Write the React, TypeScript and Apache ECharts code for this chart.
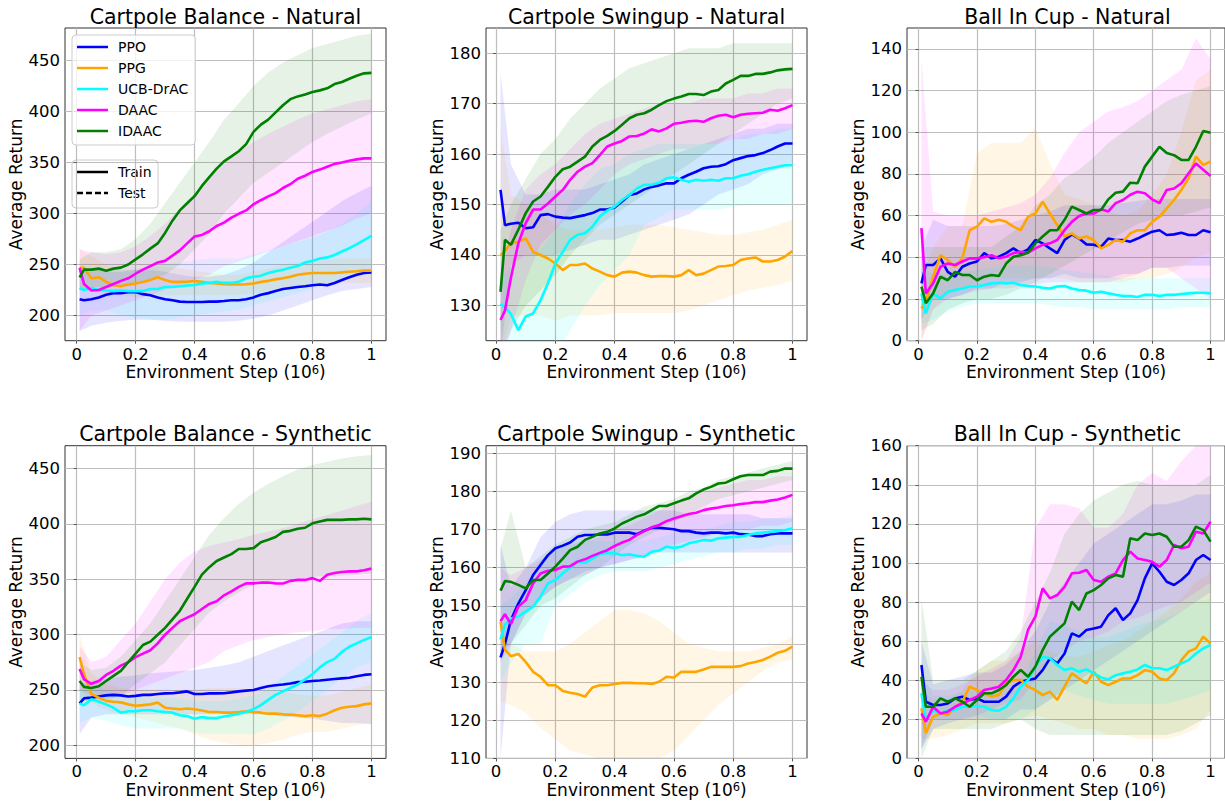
import React, { useEffect, useRef } from "react";
import * as echarts from "echarts";

// ---------- shared ----------
const ALGOS = ["PPO", "PPG", "UCB-DrAC", "DAAC", "IDAAC"];
const COLORS = ["#0000ff", "#ffa500", "#00ffff", "#ff00ff", "#008000"];
const BAND_FILLS = ["rgba(0,0,255,0.1)", "rgba(255,165,0,0.1)", "rgba(0,255,255,0.1)", "rgba(255,0,255,0.1)", "rgba(0,128,0,0.1)"];
const X_TICKS = [0, 0.2, 0.4, 0.6, 0.8, 1];

const STEPS_A = [0.01, 0.025, 0.05, 0.075, 0.1, 0.125, 0.15, 0.175, 0.2, 0.225, 0.25, 0.275, 0.3, 0.325, 0.35, 0.375, 0.4, 0.425, 0.45, 0.475, 0.5, 0.525, 0.55, 0.575, 0.6, 0.625, 0.65, 0.675, 0.7, 0.725, 0.75, 0.775, 0.8, 0.825, 0.85, 0.875, 0.9, 0.925, 0.95, 0.975, 1];
const STEPS_B = [0.015, 0.03, 0.05, 0.075, 0.1, 0.125, 0.15, 0.175, 0.2, 0.225, 0.25, 0.275, 0.3, 0.325, 0.35, 0.375, 0.4, 0.425, 0.45, 0.475, 0.5, 0.525, 0.55, 0.575, 0.6, 0.625, 0.65, 0.675, 0.7, 0.725, 0.75, 0.775, 0.8, 0.825, 0.85, 0.875, 0.9, 0.925, 0.95, 0.975, 1];
const BAND_STEPS_A = [0.01, 0.05, 0.1, 0.15, 0.2, 0.25, 0.3, 0.35, 0.4, 0.45, 0.5, 0.55, 0.6, 0.65, 0.7, 0.75, 0.8, 0.85, 0.9, 0.95, 1];
const BAND_STEPS_B = [0.015, 0.05, 0.1, 0.15, 0.2, 0.25, 0.3, 0.35, 0.4, 0.45, 0.5, 0.55, 0.6, 0.65, 0.7, 0.75, 0.8, 0.85, 0.9, 0.95, 1];

// ---------- Cartpole Balance - Natural ----------
const CBN_TICKS = [200, 250, 300, 350, 400, 450];
const CBN_PPO = [216, 215, 216, 217.8, 220.5, 222, 222, 223, 223, 221, 220, 217.8, 216, 215, 213.7, 213.3, 213.3, 213.3, 213.7, 213.7, 214.3, 215, 215, 216, 217.8, 220.5, 222, 224, 226, 227, 228, 228.7, 229.7, 230.4, 229.7, 232, 234.8, 237.6, 240, 241.7, 242.3];
const CBN_PPG = [246.8, 246.8, 236.5, 237.6, 233, 229.7, 228.7, 230.4, 231.4, 233, 234.8, 237.6, 234.8, 233, 233, 233, 233.8, 233, 232, 231.4, 230.7, 230.4, 230.4, 230.7, 231.4, 233, 234, 235.5, 236.5, 238, 240, 241, 241.7, 241.7, 241.7, 241.7, 242.3, 243, 243.4, 244, 244];
const CBN_UCB = [227, 225, 227, 225, 224.6, 224, 224.6, 224, 224, 224, 226, 226, 228, 228, 228.7, 229.4, 230, 231.4, 232, 233, 232, 232, 233, 236.5, 238, 239, 241.7, 243.4, 245, 246.8, 248.5, 252, 253.6, 256, 257, 259.4, 262.8, 266, 269.7, 274, 278];
const CBN_DAAC = [246.8, 231, 224.6, 225, 228, 231, 234, 236.5, 241, 245, 248.5, 252, 253.6, 258.7, 263.9, 270.7, 277.5, 279, 282.6, 287.8, 291, 296, 299.7, 303, 309, 313, 316.8, 320, 325, 328.7, 334, 337, 340.7, 343, 345.8, 348.6, 350, 351.6, 353, 354, 354];
const CBN_IDAAC = [237.5, 245, 245, 246, 244, 246, 247, 250, 255, 260, 265.6, 270.7, 281, 293, 303, 310, 317, 327, 335.6, 344, 351, 356, 361, 368, 380, 387, 392, 399, 406, 412, 414.7, 416.5, 419, 420.6, 422.6, 426.8, 428.8, 432, 435, 437.3, 437.7];
const CBN_PPO_LO = [185, 190, 193, 195, 196, 196, 195, 194, 194, 194, 194, 195, 197, 200, 205, 210, 215, 220, 224, 226, 228];
const CBN_PPO_HI = [245, 245, 243, 243, 245, 245, 243, 240, 238, 238, 240, 245, 252, 262, 272, 282, 292, 302, 312, 320, 327];
const CBN_PPG_LO = [225, 225, 222, 220, 218, 220, 220, 220, 220, 220, 220, 220, 222, 224, 226, 228, 230, 231, 232, 232, 232];
const CBN_PPG_HI = [265, 258, 250, 245, 245, 248, 248, 246, 244, 242, 240, 240, 243, 246, 250, 252, 254, 255, 256, 256, 256];
const CBN_UCB_LO = [200, 205, 205, 200, 198, 196, 196, 198, 200, 202, 204, 206, 210, 214, 218, 222, 226, 230, 234, 238, 242];
const CBN_UCB_HI = [240, 245, 245, 245, 245, 248, 250, 252, 254, 256, 256, 256, 260, 264, 268, 272, 276, 282, 290, 300, 312];
const CBN_DAAC_LO = [185, 200, 205, 210, 215, 220, 225, 230, 235, 240, 248, 253, 258, 263, 268, 273, 278, 283, 288, 295, 300];
const CBN_DAAC_HI = [265, 262, 260, 262, 268, 278, 290, 305, 320, 335, 350, 360, 370, 378, 385, 392, 398, 402, 406, 410, 412];
const CBN_IDAAC_LO = [225, 228, 228, 228, 230, 235, 240, 250, 265, 280, 300, 315, 330, 340, 350, 360, 370, 378, 385, 392, 398];
const CBN_IDAAC_HI = [255, 262, 262, 265, 275, 290, 310, 330, 350, 370, 392, 408, 425, 438, 448, 455, 462, 466, 470, 474, 476];

// ---------- Cartpole Swingup - Natural ----------
const CSN_TICKS = [130, 140, 150, 160, 170, 180];
const CSN_PPO = [152.9, 145.9, 146.2, 146.4, 145.3, 145.5, 147.9, 148.1, 147.6, 147.4, 147.3, 147.6, 147.9, 148.3, 149, 149, 149.4, 150.6, 151.9, 152.2, 153, 153.5, 153.8, 154.2, 154.2, 155.2, 155.9, 156.5, 157.2, 157.5, 157.6, 158, 158.8, 159.2, 159.6, 159.8, 160.2, 160.8, 161.5, 162.1, 162.1];
const CSN_PPG = [140, 140.8, 142.3, 142.6, 143.3, 140.6, 140, 139.3, 138.3, 137, 138, 138, 138.3, 137.3, 136.7, 136, 135.7, 136.5, 136.7, 136.5, 136, 135.7, 135.8, 135.8, 135.7, 136, 137, 136, 136.3, 137, 137.7, 137.8, 138, 139, 139.3, 139.5, 138.7, 138.7, 139, 139.7, 140.8];
const CSN_UCB = [130.3, 129.7, 128.3, 125.1, 127.8, 128.4, 131, 134.4, 138.3, 140.6, 143, 144, 144.3, 145.6, 147.6, 148.8, 149.6, 150.9, 151.9, 153.2, 153.9, 153.9, 154.3, 155.2, 155.4, 154.9, 154.5, 154.9, 154.7, 154.9, 154.7, 155.2, 155.2, 155.7, 156, 156.5, 156.9, 157.2, 157.5, 157.8, 157.8];
const CSN_DAAC = [127.1, 129, 135.5, 142.3, 146.3, 149, 149, 150.2, 151.6, 152.9, 154.9, 156.5, 157.5, 158.2, 159.8, 161.5, 162.1, 162.6, 163.5, 163.6, 164.1, 164.9, 164.5, 165.1, 166, 166.2, 166.5, 166.6, 166.4, 167.1, 167.6, 167.8, 167.3, 167.8, 168, 168.1, 168.2, 168.8, 168.6, 169.1, 169.7];
const CSN_IDAAC = [132.7, 143, 142, 145, 148.3, 150.6, 151.6, 153.5, 155.5, 157, 157.5, 158.5, 159.5, 161.5, 162.8, 163.6, 164.6, 165.8, 167.1, 167.8, 168.1, 168.8, 169.7, 170.5, 171, 171.4, 171.9, 171.9, 171.7, 172.4, 172.7, 174, 174.7, 175.5, 175.5, 175.9, 175.9, 176.2, 176.6, 176.8, 176.9];
const CSN_PPO_LO = [120, 138, 140, 140, 140, 141, 142, 143, 143, 144, 145, 146, 147, 148, 150, 152, 153, 154, 156, 157, 158];
const CSN_PPO_HI = [176, 158, 152, 152, 153, 153, 153, 154, 155, 156, 158, 159, 160, 161, 162, 163, 164, 165, 165, 166, 166];
const CSN_PPG_LO = [120, 128, 128, 128, 127, 128, 128, 128, 128.5, 128.5, 128.5, 128.5, 128.5, 129, 130, 131, 132, 133, 133.5, 134, 135];
const CSN_PPG_HI = [165, 152, 150, 148, 146, 145, 145, 145, 145.5, 146, 146, 146, 145.5, 145, 144.5, 144, 144, 144.5, 145, 146, 147];
const CSN_UCB_LO = [125, 115, 112, 115, 120, 125, 130, 134, 137, 140, 146, 147.5, 149, 149, 149, 149, 149.5, 150, 150, 150, 150];
const CSN_UCB_HI = [135, 138, 140, 141, 145, 150, 154, 157, 158, 160, 161, 162, 162, 162, 162, 162, 163, 164, 164, 165, 165];
const CSN_DAAC_LO = [118, 125, 135, 142, 145, 148, 150, 153, 156, 158, 159, 160, 161, 161, 162, 162, 163, 163, 164, 164, 165];
const CSN_DAAC_HI = [135, 145, 153, 156, 158, 161, 164, 166, 167, 168, 169, 170, 170, 170, 171, 171, 171, 172, 172, 173, 173];
const CSN_IDAAC_LO = [120, 125, 130, 133, 136, 140, 143, 146, 148, 150, 152, 154, 156, 158, 160, 162, 164, 166, 168, 170, 171];
const CSN_IDAAC_HI = [145, 150, 155, 160, 163, 167, 170, 173, 175, 177, 178, 179, 180, 181, 181, 181, 182, 182, 182, 182, 182];

// ---------- Ball In Cup - Natural ----------
const BCN_TICKS = [0, 20, 40, 60, 80, 100, 120, 140];
const BCN_PPO = [27.5, 36.3, 36.3, 39.5, 33, 30.7, 35.5, 37, 38, 42, 39.5, 40.3, 42, 44.3, 42, 43.8, 48.3, 46.7, 44.3, 42, 48.3, 51, 49, 46.2, 46, 45, 49, 48.3, 48.3, 47.5, 49, 50.7, 52.3, 53, 50.7, 51, 51.8, 50.7, 50.7, 53, 52];
const BCN_PPG = [15.5, 18.7, 30.7, 41, 38.7, 35.5, 39.5, 53, 54.7, 58.7, 57, 58, 57, 54.7, 53, 59.5, 61, 66.7, 61, 55.5, 50, 51.5, 49, 50, 48.3, 44.3, 46, 48.3, 47.5, 51.5, 53, 53, 57, 59.5, 63.5, 67.5, 72.3, 78, 88.3, 84.3, 86];
const BCN_UCB = [22.7, 13, 22.7, 20.3, 23.5, 24.3, 25, 26, 26, 26.7, 27.5, 27.8, 27.5, 27.8, 26.7, 26.2, 26, 25.4, 25, 26, 26.2, 25, 24.3, 24, 23, 23.5, 22.7, 22, 21.4, 21.4, 21, 22, 22, 21.4, 22, 22, 22.4, 22.7, 23, 23, 22.7];
const BCN_DAAC = [54, 22.7, 27.5, 35.5, 37, 36.3, 38, 39.5, 39.5, 40, 41, 39.5, 40.3, 42, 42.7, 42.2, 44.3, 46, 46.7, 48.3, 53, 57, 59.8, 61, 61, 63, 62, 66, 67.5, 70, 71.5, 70.7, 67.8, 66, 72.3, 73, 75.5, 80.3, 85, 82, 79];
const BCN_IDAAC = [25.9, 18, 22.7, 30.7, 29, 33, 31.5, 31.5, 29, 30.7, 31.5, 31, 37, 40.3, 41, 42.2, 46.7, 50, 53, 53, 58, 64.3, 62.7, 61, 62.7, 62.7, 67.8, 71, 71.5, 75.8, 75.5, 83.5, 88.3, 93, 90, 89, 86.7, 86.7, 93, 100.6, 99.8];
const BCN_PPO_LO = [10, 20, 20, 22, 25, 25, 28, 28, 30, 30, 32, 30, 30, 30, 32, 32, 35, 35, 36, 36, 36];
const BCN_PPO_HI = [45, 58, 55, 55, 55, 55, 56, 58, 60, 62, 65, 65, 65, 65, 66, 67, 68, 68, 68, 68, 68];
const BCN_PPG_LO = [0, 15, 22, 25, 28, 30, 30, 30, 30, 30, 30, 28, 28, 28, 28, 30, 30, 32, 35, 40, 42];
const BCN_PPG_HI = [30, 45, 55, 55, 90, 95, 95, 95, 102, 85, 70, 68, 65, 62, 60, 62, 70, 80, 100, 125, 130];
const BCN_UCB_LO = [8, 10, 14, 16, 18, 18, 18, 18, 18, 17, 16, 16, 15, 15, 15, 15, 15, 15, 16, 16, 16];
const BCN_UCB_HI = [35, 32, 32, 33, 34, 35, 36, 36, 36, 35, 34, 33, 32, 31, 30, 30, 30, 30, 30, 30, 30];
const BCN_DAAC_LO = [0, 15, 20, 22, 24, 25, 25, 26, 27, 28, 28, 28, 28, 28, 30, 32, 35, 35, 30, 25, 20];
const BCN_DAAC_HI = [135, 62, 60, 60, 60, 62, 64, 66, 70, 78, 90, 100, 105, 110, 112, 115, 120, 125, 130, 145, 135];
const BCN_IDAAC_LO = [5, 8, 15, 18, 20, 20, 22, 25, 28, 32, 36, 40, 44, 48, 52, 56, 58, 60, 60, 62, 64];
const BCN_IDAAC_HI = [45, 45, 45, 45, 45, 45, 50, 55, 65, 70, 78, 82, 88, 95, 100, 105, 110, 115, 118, 120, 122];

// ---------- Cartpole Balance - Synthetic ----------
const CBS_TICKS = [200, 250, 300, 350, 400, 450];
const CBS_PPO = [237.8, 242.4, 243, 244, 245, 245.5, 245, 244, 244.6, 245.5, 245.5, 246.2, 246.8, 247, 247.7, 248.6, 246.2, 246.2, 246.8, 246.8, 247, 247.7, 248.6, 249.3, 249.9, 251.7, 253.3, 254.2, 254.8, 255.8, 257, 257.3, 258, 258.5, 259.2, 259.8, 260.4, 261, 262.3, 263.5, 264.1];
const CBS_PPG = [279.6, 264.1, 246.2, 243, 240, 239.3, 238.7, 236.9, 235.6, 236.2, 236.9, 238.5, 233.8, 233.1, 232.5, 233.1, 232.5, 231.3, 230, 230, 229.4, 229.4, 230, 230.7, 230, 229.4, 228.5, 228.5, 227.9, 227.6, 227, 226.3, 227, 226.3, 228.5, 231.6, 233.8, 234.7, 235.3, 236.9, 237.8];
const CBS_UCB = [237.8, 236, 241.5, 239.3, 236.9, 233.8, 229.4, 230.7, 230.7, 231.6, 231.6, 230.7, 230, 229.4, 227, 226.3, 223.9, 225.4, 224.5, 224.5, 226, 227, 228.5, 230, 232.5, 236.2, 240.9, 245.5, 248.6, 251.7, 254.8, 259.5, 264.1, 270.3, 275, 278, 284.3, 288.9, 292, 295.1, 297.6];
const CBS_DAAC = [268.8, 259.5, 255.5, 258, 263.5, 267.2, 271.9, 275, 279.6, 282.7, 285.8, 292, 299.8, 306, 312, 315.2, 318.3, 323, 327.6, 330, 335.4, 339, 343, 346.2, 346.2, 346.8, 347, 346.2, 346, 348.4, 349.3, 349.3, 350.9, 348.4, 354, 355.5, 356.4, 357, 357, 358, 359.5];
const CBS_IDAAC = [258, 252.7, 251.7, 253.3, 258, 262.6, 267.2, 275, 282.7, 290.5, 293.6, 299.8, 306, 313.7, 321.4, 332.3, 343, 354, 360.8, 366.4, 369.5, 372.6, 377.2, 377.2, 378, 383.4, 385.6, 388, 392.7, 393.6, 395.5, 396.4, 400.4, 402, 403.5, 403.5, 403.5, 404, 404, 404.5, 404];
const CBS_PPO_LO = [210, 225, 228, 228, 228, 228, 228, 228, 228, 228, 228, 228, 228, 228, 226, 225, 224, 222, 220, 220, 219];
const CBS_PPO_HI = [255, 258, 260, 262, 263, 265, 266, 267, 268, 270, 272, 275, 280, 285, 290, 295, 300, 305, 310, 312, 312];
const CBS_PPG_LO = [250, 238, 232, 228, 225, 222, 218, 215, 210, 205, 202, 200, 200, 202, 205, 210, 212, 212, 215, 218, 220];
const CBS_PPG_HI = [300, 265, 255, 252, 250, 250, 250, 250, 250, 252, 252, 252, 250, 250, 248, 246, 245, 245, 248, 252, 255];
const CBS_UCB_LO = [220, 225, 222, 218, 215, 215, 215, 215, 212, 210, 210, 210, 210, 215, 222, 230, 240, 250, 260, 270, 275];
const CBS_UCB_HI = [250, 255, 250, 245, 243, 243, 243, 242, 240, 240, 240, 242, 245, 252, 262, 272, 282, 292, 302, 312, 320];
const CBS_DAAC_LO = [250, 245, 245, 245, 250, 255, 260, 265, 270, 275, 285, 290, 295, 298, 300, 302, 303, 305, 305, 306, 306];
const CBS_DAAC_HI = [290, 275, 280, 295, 310, 330, 350, 365, 375, 380, 383, 386, 390, 393, 396, 400, 404, 408, 412, 416, 420];
const CBS_IDAAC_LO = [240, 240, 240, 245, 255, 265, 275, 290, 305, 320, 330, 338, 345, 348, 350, 350, 352, 353, 353, 354, 355];
const CBS_IDAAC_HI = [275, 268, 270, 280, 295, 310, 330, 350, 370, 390, 405, 418, 428, 436, 443, 449, 453, 456, 459, 461, 462];

// ---------- Cartpole Swingup - Synthetic ----------
const CSS_TICKS = [110, 120, 130, 140, 150, 160, 170, 180, 190];
const CSS_PPO = [136.5, 140, 146.3, 150.6, 154.1, 158.1, 160.7, 163.3, 165.1, 165.8, 166.6, 168.1, 168.6, 168.6, 168.7, 168.7, 169.2, 169.2, 169.2, 168.8, 169.7, 170.5, 170.5, 170.3, 170.1, 169.6, 169.6, 169.2, 169, 169.2, 169.2, 169, 169.2, 168.8, 168.7, 168.3, 168.3, 168.8, 169, 169, 169];
const CSS_PPG = [145.8, 138.5, 136.8, 137.4, 135.3, 132.7, 131.4, 129.2, 129.2, 127.7, 127.2, 126.9, 126.2, 128.6, 129.2, 129.2, 129.5, 129.8, 129.8, 129.7, 129.7, 129.5, 130.1, 131.4, 131.2, 132.7, 132.7, 132.7, 133.3, 134, 134, 134, 134, 134.2, 134.9, 135.3, 135.8, 136.7, 137.7, 138.2, 139.3];
const CSS_UCB = [141.2, 145, 146.7, 147.2, 148.5, 149.8, 152.4, 155.9, 156.8, 158.5, 160.1, 161.6, 161.3, 162.4, 163.6, 163.9, 163.8, 163.3, 163.5, 163.1, 162.9, 164.2, 164.5, 165.5, 165.2, 165.5, 166.4, 166.8, 167.3, 167.1, 167.7, 167.9, 168.1, 168.1, 168.6, 169, 169.2, 169.4, 169.6, 169.9, 170.3];
const CSS_DAAC = [146, 147.8, 145.2, 149.8, 151.5, 155.9, 158.5, 159.2, 159.4, 160.3, 160.4, 161.6, 162.2, 163.1, 163.9, 164.6, 165.7, 166.6, 167.3, 168.6, 169.6, 170.6, 171.2, 172.2, 172.9, 173.5, 174.1, 174.4, 175.1, 175.5, 175.8, 176.2, 176.4, 176.7, 176.9, 177.2, 177.2, 177.6, 177.9, 178.4, 179.1];
const CSS_IDAAC = [154, 156.5, 156.3, 155.5, 154.6, 156.8, 156.8, 158.5, 160.3, 162.4, 164.6, 165.5, 167.3, 168.1, 169, 169.4, 170.3, 171.6, 172.5, 173.4, 174, 175.1, 176.2, 176.2, 176.9, 177.6, 178.2, 179.5, 180.5, 181.2, 182.1, 182.3, 183.2, 184, 184.3, 184.3, 184.3, 185.2, 185.4, 186, 186];
const CSS_PPO_LO = [110, 140, 148, 152, 155, 157, 159, 160, 161, 162, 163, 164, 164, 164, 164, 164, 164, 164, 164, 164, 164];
const CSS_PPO_HI = [166, 155, 160, 168, 172, 174, 175, 175, 175, 175, 175, 175, 175, 174, 174, 174, 174, 174, 173, 173, 173];
const CSS_PPG_LO = [125, 124, 122, 118, 115, 112, 111, 110, 110, 110, 110, 110, 112, 116, 120, 124, 127, 130, 133, 135, 136];
const CSS_PPG_HI = [147, 140, 138, 138, 138, 140, 143, 146, 149, 149, 148, 146, 143, 140, 139, 138, 138, 138, 139, 140, 142];
const CSS_UCB_LO = [130, 135, 140, 140, 150, 153, 156, 158, 159, 159, 159, 160, 161, 162, 163, 164, 164, 165, 165, 166, 166];
const CSS_UCB_HI = [150, 152, 156, 162, 165, 167, 167, 167, 167, 167, 167, 168, 169, 170, 170, 171, 172, 172, 173, 173, 174];
const CSS_DAAC_LO = [135, 140, 148, 152, 155, 157, 158, 160, 161, 162, 163, 165, 166, 167, 168, 169, 170, 170, 171, 171, 172];
const CSS_DAAC_HI = [160, 158, 160, 162, 165, 166, 167, 168, 170, 171, 173, 175, 177, 179, 180, 181, 182, 183, 183, 184, 184];
const CSS_IDAAC_LO = [138, 140, 145, 150, 152, 155, 158, 160, 163, 166, 168, 170, 172, 174, 176, 178, 179, 180, 181, 182, 183];
const CSS_IDAAC_HI = [165, 175, 160, 163, 166, 168, 170, 171, 172, 174, 176, 177, 178, 180, 181, 183, 184, 185, 186, 187, 188];

// ---------- Ball In Cup - Synthetic ----------
const BCS_TICKS = [0, 20, 40, 60, 80, 100, 120, 140, 160];
const BCS_PPO = [47.8, 29, 27.3, 27.3, 28.1, 30.7, 31.6, 29.9, 30.7, 29, 29, 29, 31.6, 36.7, 39.2, 40.1, 40.9, 45.2, 51.2, 48.6, 53.7, 64, 62.3, 65.7, 66.5, 67.4, 73.3, 76.8, 70.8, 74.2, 81, 92.1, 99.8, 95.5, 90.4, 88.7, 91.3, 94.7, 101.5, 104.1, 101.5];
const BCS_PPG = [25.6, 13, 21.3, 23, 22.2, 26.4, 29, 36.7, 35, 33.3, 31.6, 32.4, 38.4, 40.1, 40.1, 36.7, 35, 32.4, 34.1, 29.9, 36.7, 43.5, 40.9, 38.4, 44.3, 39.2, 37.5, 39.2, 40.9, 40.9, 42.6, 45.2, 44.3, 40.9, 40.1, 43.5, 50.3, 54.6, 56.3, 62.3, 58.8];
const BCS_UCB = [33.3, 19.6, 24.7, 23, 24.7, 24.7, 26.4, 26.4, 26.8, 26.4, 24.7, 24.4, 26.4, 30.7, 36.7, 40.1, 46.9, 52, 51.2, 47.8, 45.2, 46.1, 44.3, 45.5, 43.5, 41.4, 40.4, 42.6, 43.5, 44.3, 45.5, 47.8, 46.1, 46.1, 45.2, 46.9, 48.6, 50.3, 53.7, 56.3, 58];
const BCS_DAAC = [23, 18.8, 26.4, 23, 23.9, 26.4, 28.1, 29.9, 31.6, 35, 35.8, 36.7, 40.1, 45.2, 52, 65.7, 72.5, 87, 81.9, 83.6, 87.8, 94.7, 95, 96.4, 91.3, 90.4, 93, 94.7, 101.5, 105.8, 102.3, 101.5, 100.6, 98.1, 101.5, 109.2, 107.5, 108.3, 116, 115.1, 121.1];
const BCS_IDAAC = [41.8, 26.4, 26.4, 30.7, 29, 30.7, 29, 26.4, 29.9, 33.3, 33.3, 35, 37.5, 41.8, 45.2, 41.8, 46.9, 55.4, 62.3, 65.7, 69.1, 80.2, 75.9, 84.4, 86.1, 88.7, 92.1, 93.8, 93, 112.6, 111.7, 115.1, 114.3, 115.1, 113.4, 108.3, 108.3, 111.7, 118.6, 116.8, 110.9];
const BCS_PPO_LO = [5, 20, 20, 20, 20, 20, 20, 25, 25, 30, 35, 40, 45, 50, 55, 60, 65, 70, 75, 80, 85];
const BCS_PPO_HI = [60, 38, 40, 42, 44, 44, 48, 55, 65, 80, 90, 100, 110, 115, 120, 125, 130, 130, 132, 135, 135];
const BCS_PPG_LO = [10, 10, 12, 15, 18, 18, 18, 20, 22, 20, 18, 15, 15, 12, 12, 10, 10, 10, 12, 15, 25];
const BCS_PPG_HI = [35, 30, 30, 35, 45, 50, 50, 55, 60, 55, 52, 52, 55, 58, 60, 65, 70, 75, 82, 90, 95];
const BCS_UCB_LO = [5, 15, 18, 20, 22, 20, 20, 20, 25, 30, 35, 32, 30, 28, 28, 28, 28, 28, 30, 32, 35];
const BCS_UCB_HI = [45, 32, 32, 34, 35, 33, 35, 40, 55, 70, 68, 65, 62, 62, 65, 68, 70, 72, 75, 80, 82];
const BCS_DAAC_LO = [5, 15, 18, 20, 22, 25, 28, 30, 40, 50, 55, 60, 62, 65, 70, 72, 75, 78, 80, 85, 90];
const BCS_DAAC_HI = [40, 35, 35, 38, 42, 46, 50, 62, 118, 130, 130, 128, 118, 118, 125, 140, 146, 142, 152, 160, 162];
const BCS_IDAAC_LO = [0, 15, 15, 15, 15, 15, 18, 20, 15, 12, 12, 12, 12, 12, 12, 12, 12, 12, 14, 18, 22];
const BCS_IDAAC_HI = [82, 40, 40, 40, 45, 50, 55, 65, 80, 95, 115, 125, 132, 136, 140, 142, 140, 140, 140, 140, 145];

const PANELS = [
  { title: "Cartpole Balance - Natural", steps: STEPS_A, bandSteps: BAND_STEPS_A, xMin: -0.0395, xMax: 1.0495, yMin: 175.4, yMax: 481.7, yTicks: CBN_TICKS,
    means: [CBN_PPO, CBN_PPG, CBN_UCB, CBN_DAAC, CBN_IDAAC],
    lows: [CBN_PPO_LO, CBN_PPG_LO, CBN_UCB_LO, CBN_DAAC_LO, CBN_IDAAC_LO],
    highs: [CBN_PPO_HI, CBN_PPG_HI, CBN_UCB_HI, CBN_DAAC_HI, CBN_IDAAC_HI] },
  { title: "Cartpole Swingup - Natural", steps: STEPS_B, bandSteps: BAND_STEPS_B, xMin: -0.034, xMax: 1.049, yMin: 123, yMax: 185, yTicks: CSN_TICKS,
    means: [CSN_PPO, CSN_PPG, CSN_UCB, CSN_DAAC, CSN_IDAAC],
    lows: [CSN_PPO_LO, CSN_PPG_LO, CSN_UCB_LO, CSN_DAAC_LO, CSN_IDAAC_LO],
    highs: [CSN_PPO_HI, CSN_PPG_HI, CSN_UCB_HI, CSN_DAAC_HI, CSN_IDAAC_HI] },
  { title: "Ball In Cup - Natural", steps: STEPS_A, bandSteps: BAND_STEPS_A, xMin: -0.0395, xMax: 1.0495, yMin: 0, yMax: 150, yTicks: BCN_TICKS,
    means: [BCN_PPO, BCN_PPG, BCN_UCB, BCN_DAAC, BCN_IDAAC],
    lows: [BCN_PPO_LO, BCN_PPG_LO, BCN_UCB_LO, BCN_DAAC_LO, BCN_IDAAC_LO],
    highs: [BCN_PPO_HI, BCN_PPG_HI, BCN_UCB_HI, BCN_DAAC_HI, BCN_IDAAC_HI] },
  { title: "Cartpole Balance - Synthetic", steps: STEPS_A, bandSteps: BAND_STEPS_A, xMin: -0.0395, xMax: 1.0495, yMin: 188.1, yMax: 470.5, yTicks: CBS_TICKS,
    means: [CBS_PPO, CBS_PPG, CBS_UCB, CBS_DAAC, CBS_IDAAC],
    lows: [CBS_PPO_LO, CBS_PPG_LO, CBS_UCB_LO, CBS_DAAC_LO, CBS_IDAAC_LO],
    highs: [CBS_PPO_HI, CBS_PPG_HI, CBS_UCB_HI, CBS_DAAC_HI, CBS_IDAAC_HI] },
  { title: "Cartpole Swingup - Synthetic", steps: STEPS_B, bandSteps: BAND_STEPS_B, xMin: -0.034, xMax: 1.049, yMin: 110, yMax: 192, yTicks: CSS_TICKS,
    means: [CSS_PPO, CSS_PPG, CSS_UCB, CSS_DAAC, CSS_IDAAC],
    lows: [CSS_PPO_LO, CSS_PPG_LO, CSS_UCB_LO, CSS_DAAC_LO, CSS_IDAAC_LO],
    highs: [CSS_PPO_HI, CSS_PPG_HI, CSS_UCB_HI, CSS_DAAC_HI, CSS_IDAAC_HI] },
  { title: "Ball In Cup - Synthetic", steps: STEPS_A, bandSteps: BAND_STEPS_A, xMin: -0.0395, xMax: 1.0495, yMin: 0, yMax: 160, yTicks: BCS_TICKS,
    means: [BCS_PPO, BCS_PPG, BCS_UCB, BCS_DAAC, BCS_IDAAC],
    lows: [BCS_PPO_LO, BCS_PPG_LO, BCS_UCB_LO, BCS_DAAC_LO, BCS_IDAAC_LO],
    highs: [BCS_PPO_HI, BCS_PPG_HI, BCS_UCB_HI, BCS_DAAC_HI, BCS_IDAAC_HI] },
];

// layout (pixels)
const BOX_LEFT = [65, 486, 907];
const BOX_TOP = [28, 445.7];
const BOX_W = 321;
const BOX_H = 312.7;
const FONT = '"DejaVu Sans", Verdana, sans-serif';

function makeBandRenderer(fill: string) {
  return (params: any, api: any) => {
    const n = params.dataInsideLength;
    if (params.dataIndexInside !== n - 1) return null;
    const lower: number[][] = [];
    const upper: number[][] = [];
    for (let i = 0; i < n; i++) {
      const x = api.value(0, i);
      lower.push(api.coord([x, api.value(1, i)]));
      upper.push(api.coord([x, api.value(2, i)]));
    }
    const cs = params.coordSys;
    return {
      type: "polygon",
      shape: { points: lower.concat(upper.reverse()) },
      style: { fill, stroke: null },
      clipPath: { type: "rect", shape: { x: cs.x, y: cs.y, width: cs.width, height: cs.height } },
      silent: true,
    };
  };
}

function buildOption() {
  const grid: any[] = [];
  const xAxis: any[] = [];
  const yAxis: any[] = [];
  const bandSeries: any[] = [];
  const lineSeries: any[] = [];
  const graphic: any[] = [];

  PANELS.forEach((p, g) => {
    const left = BOX_LEFT[g % 3];
    const top = BOX_TOP[Math.floor(g / 3)];
    grid.push({ left, top, width: BOX_W, height: BOX_H, show: true, borderColor: "#333", borderWidth: 1, backgroundColor: "transparent" });
    xAxis.push({
      type: "value", gridIndex: g, min: p.xMin, max: p.xMax,
      axisLine: { show: false },
      axisTick: { show: true, length: 3, lineStyle: { color: "#555", width: 1 }, customValues: X_TICKS },
      axisLabel: { customValues: X_TICKS, fontSize: 16.5, color: "#000", margin: 5, fontFamily: FONT },
      splitLine: { show: true, lineStyle: { color: "#bdbdbd", width: 1.2 } },
      name: "Environment Step (10{sup|6})",
      nameLocation: "middle", nameGap: 23,
      nameTextStyle: { fontSize: 17, color: "#000", fontFamily: FONT, rich: { sup: { fontSize: 11.5, verticalAlign: "top", color: "#000", fontFamily: FONT } } },
    });
    yAxis.push({
      type: "value", gridIndex: g, min: p.yMin, max: p.yMax,
      axisLine: { show: false },
      axisTick: { show: true, length: 3, lineStyle: { color: "#555", width: 1 }, customValues: p.yTicks },
      axisLabel: { customValues: p.yTicks, fontSize: 16.5, color: "#000", margin: 5, fontFamily: FONT },
      splitLine: { show: true, lineStyle: { color: "#bdbdbd", width: 1.2 } },
      name: "Average Return", nameLocation: "middle", nameGap: 40, nameRotate: 90,
      nameTextStyle: { fontSize: 17, color: "#000", fontFamily: FONT },
    });
    graphic.push({
      type: "text", x: left + BOX_W / 2, y: top - 11.3, z: 50,
      style: { text: p.title, font: `20.5px ${FONT}`, fill: "#000", textAlign: "center", textVerticalAlign: "middle" },
    });

    ALGOS.forEach((name, a) => {
      const lo = p.lows[a];
      const hi = p.highs[a];
      bandSeries.push({
        type: "custom", name: `${name} band`, xAxisIndex: g, yAxisIndex: g,
        data: p.bandSteps.map((x, i) => [x, lo[i], hi[i]]),
        encode: { x: 0, y: [1, 2] },
        renderItem: makeBandRenderer(BAND_FILLS[a]),
        silent: true, z: 1, clip: true,
      });
      lineSeries.push({
        type: "line", name, xAxisIndex: g, yAxisIndex: g,
        data: p.steps.map((x, i) => [x, p.means[a][i]]),
        showSymbol: false, symbol: "none", color: COLORS[a], z: 3,
        lineStyle: { color: COLORS[a], width: 2.6 },
      });
    });
  });

  // Train / Test style legend
  graphic.push({
    type: "group", z: 100, children: [
      { type: "rect", shape: { x: 72, y: 160, width: 86, height: 48, r: 4 }, style: { fill: "rgba(255,255,255,0.8)", stroke: "#cccccc", lineWidth: 1 } },
      { type: "line", shape: { x1: 77, y1: 172, x2: 108, y2: 172 }, style: { stroke: "#000", lineWidth: 2.5 } },
      { type: "line", shape: { x1: 77, y1: 193, x2: 108, y2: 193 }, style: { stroke: "#000", lineWidth: 2.5, lineDash: [6, 3] } },
      { type: "text", x: 118, y: 172, style: { text: "Train", font: `14px ${FONT}`, fill: "#000", textVerticalAlign: "middle" } },
      { type: "text", x: 118, y: 193, style: { text: "Test", font: `14px ${FONT}`, fill: "#000", textVerticalAlign: "middle" } },
    ],
  });

  return {
    animation: false,
    backgroundColor: "#ffffff",
    textStyle: { fontFamily: FONT },
    grid, xAxis, yAxis,
    legend: {
      show: true, data: ALGOS, orient: "vertical", left: 72, top: 35,
      icon: "rect", itemWidth: 31, itemHeight: 2.5, itemGap: 0, selectedMode: false,
      textStyle: { fontSize: 14, lineHeight: 21, color: "#000", fontFamily: FONT, padding: [0, 0, 0, 5] },
      backgroundColor: "rgba(255,255,255,0.8)", borderColor: "#cccccc", borderWidth: 1, borderRadius: 4,
      padding: [1.5, 7, 3.5, 5], z: 20,
    },
    graphic,
    series: [...bandSeries, ...lineSeries],
  };
}

export default function App() {
  const ref = useRef<HTMLDivElement>(null);
  useEffect(() => {
    if (!ref.current) return;
    const chart = echarts.init(ref.current, undefined, { renderer: "svg" });
    chart.setOption(buildOption() as any);
    return () => chart.dispose();
  }, []);
  return (
    <div
      ref={ref}
      style={{ position: "absolute", left: 0, top: 0, width: 1225, height: 802, background: "#fff" }}
    />
  );
}
